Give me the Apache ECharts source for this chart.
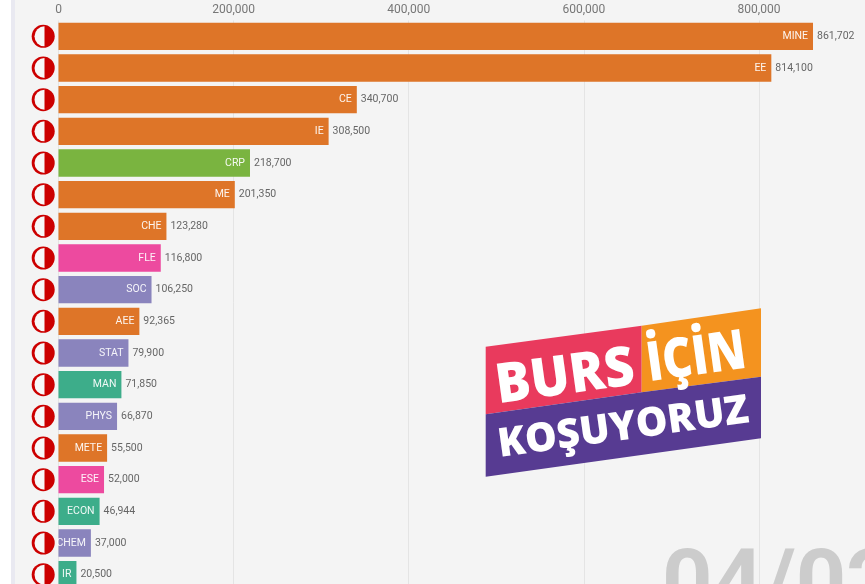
<!DOCTYPE html>
<html><head><meta charset="utf-8">
<style>html,body{margin:0;padding:0;background:#f4f4f4;overflow:hidden}#c{width:865px;height:584px}</style>
<script src="https://cdn.jsdelivr.net/npm/echarts@6/dist/echarts.min.js"></script>
</head><body><div id="c"></div>
<script>
const categories = ['MINE','EE','CE','IE','CRP','ME','CHE','FLE','SOC','AEE','STAT','MAN','PHYS','METE','ESE','ECON','CHEM','IR'];
const values = [861702,814100,340700,308500,218700,201350,123280,116800,106250,92365,79900,71850,66870,55500,52000,46944,37000,20500];
const faculties = ['eng','eng','eng','eng','arch','eng','eng','edu','art','eng','art','admin','art','eng','edu','admin','art','admin'];
const facultyColors = {eng:'#dd7325',arch:'#78b33d',edu:'#ed479d',art:'#8882bc',admin:'#3aac88'};
const axisTicks = [0,200000,400000,600000,800000,1000000];
const dateText = '04/02';
const logoLines = ['BURS','İÇİN','KOŞUYORUZ'];

const chart = echarts.init(document.getElementById('c'),null,{renderer:'canvas'});
const fnt = 'Roboto, sans-serif';
const logoFont = '"Open Sans", sans-serif';
const tilt = 0.1386;
chart.setOption({
  animation:false,
  backgroundColor:'#f4f4f4',
  grid:{left:58.5,top:20.5,width:875.6,height:570,containLabel:false,outerBoundsMode:'none'},
  xAxis:{type:'value',position:'top',min:axisTicks[0],max:axisTicks[axisTicks.length-1],interval:axisTicks[1],
    axisLine:{show:false},axisTick:{show:false},
    axisLabel:{color:'#777',fontFamily:fnt,fontSize:12,margin:5,showMaxLabel:false,
      formatter:v=>v.toLocaleString('en-US')},
    splitLine:{show:true,lineStyle:{color:'#e4e4e4',width:1}}},
  yAxis:{type:'category',inverse:true,data:categories,axisLine:{show:false},axisTick:{show:false},axisLabel:{show:false},splitLine:{show:false}},
  graphic:[
    {type:'rect',z:0,silent:true,shape:{x:0,y:0,width:11,height:584},style:{fill:'#ffffff'}},
    {type:'rect',z:0,silent:true,shape:{x:11,y:0,width:4,height:584},style:{fill:'#e9e9f1'}},
    {type:'text',z:1,silent:true,x:662,y:545,style:{text:dateText,fill:'#cccccc',font:'bold 88px '+fnt}},
    {type:'polygon',z:20,silent:true,shape:{points:[[485.7,346.7],[641.7,325.7],[641.7,392.3],[485.7,414.3]]},style:{fill:'#e93a5d'}},
    {type:'polygon',z:20,silent:true,shape:{points:[[641.7,325.7],[761,308.3],[761,376.7],[641.7,392.3]]},style:{fill:'#f4931f'}},
    {type:'polygon',z:20,silent:true,shape:{points:[[485.7,414.3],[641.7,392.3],[761,376.7],[761,438.3],[485.7,476.7]]},style:{fill:'#573b92'}},
    {type:'text',z:21,silent:true,x:500,y:415,rotation:tilt,scaleX:0.945,style:{text:logoLines[0],fill:'#fff',font:'800 55px '+logoFont,verticalAlign:'bottom'}},
    {type:'text',z:21,silent:true,x:651,y:393,rotation:tilt,scaleX:0.83,style:{text:logoLines[1],fill:'#fff',font:'800 55px '+logoFont,verticalAlign:'bottom'}},
    {type:'text',z:21,silent:true,x:501,y:465.5,rotation:tilt,scaleX:1,style:{text:logoLines[2],fill:'#fff',font:'800 40px '+logoFont,verticalAlign:'bottom'}}
  ],
  series:[
    {type:'bar',barWidth:27.3,barGap:'-100%',z:3,silent:true,
      data:values.map((v,i)=>({value:v,itemStyle:{color:facultyColors[faculties[i]],opacity:0.985},
        label:{show:true,position:'insideRight',distance:5,formatter:categories[i],color:'#fff',fontFamily:fnt,fontSize:10.5,opacity:.92}}))},
    {type:'bar',barWidth:27.3,barGap:'-100%',z:4,silent:true,itemStyle:{color:'transparent'},
      data:values,
      label:{show:true,position:'right',distance:4,color:'#666',fontFamily:fnt,fontSize:10.5,formatter:p=>p.value.toLocaleString('en-US')}},
    {type:'custom',z:5,silent:true,clip:false,data:values.map((v,i)=>[0,i]),
      encode:{x:0,y:1},
      renderItem:(params,api)=>{
        const p=api.coord([api.value(0),api.value(1)]);
        const cx=p[0]-15.3,cy=p[1];
        return {type:'group',children:[
          {type:'circle',shape:{cx:cx,cy:cy,r:11.5},style:{fill:'#cc0000'}},
          {type:'sector',shape:{cx:cx+1.3,cy:cy,r:10,r0:0,startAngle:Math.PI/2,endAngle:Math.PI*1.5},style:{fill:'#f8f8f8'}}
        ]};
      }}
  ]
});
</script></body></html>
